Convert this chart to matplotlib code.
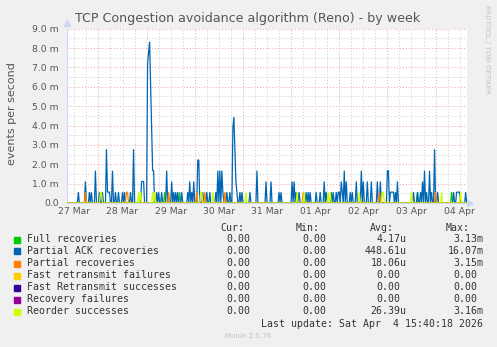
import numpy as np
import matplotlib
matplotlib.use("Agg")
import matplotlib.pyplot as plt
import matplotlib.dates as mdates
from matplotlib.patches import Rectangle
from datetime import datetime, timedelta

# 30 minute samples, index k -> start + k*30min, values in milli-events/s
start = datetime(2026, 3, 27, 8, 30)
n_samples = 400

full_idx = [97, 112, 349, 383]
full_val = [0.56, 0.56, 0.56, 0.56]

ack_idx = [11, 18, 22, 24, 28, 32, 35, 39, 40, 41, 42, 45, 48, 51, 55, 57, 63, 66,
           74, 75, 76, 80, 81, 82, 83, 84, 85, 86, 89, 91, 94, 99, 104, 106, 108, 110,
           114, 120, 122, 124, 126, 130, 131, 135, 139, 142, 148, 150, 152, 154, 155,
           159, 162, 165, 166, 167, 168, 169, 172, 174, 182, 189, 198, 203, 211, 213,
           224, 226, 228, 231, 238, 240, 242, 248, 252, 256, 258, 263, 265, 268, 270,
           271, 273, 274, 276, 278, 282, 284, 288, 293, 295, 299, 303, 309, 312, 319,
           320, 322, 323, 324, 325, 327, 329, 345, 349, 352, 354, 356, 358, 361, 363,
           366, 369, 385, 388, 389, 390, 391, 397]
ack_val = [0.56, 1.11, 0.56, 0.56, 1.67, 0.56, 0.56, 2.78, 0.56, 0.56, 0.56, 1.67, 0.56, 0.56, 0.56, 0.56, 0.56, 2.78,
           1.11, 1.11, 1.11, 7.22, 7.78, 8.33, 6.11, 3.89, 1.67, 1.67, 0.56, 0.56, 0.56, 1.67, 1.11, 0.56, 0.56, 0.56,
           0.56, 0.56, 1.11, 0.56, 1.11, 2.22, 2.22, 0.56, 0.56, 0.56, 0.56, 1.67, 1.67, 1.67, 0.56,
           0.56, 0.56, 3.89, 4.44, 2.78, 1.11, 0.56, 0.56, 0.56, 0.56, 1.67, 1.11, 1.11, 0.56, 0.56,
           1.11, 1.11, 0.56, 0.56, 0.56, 0.56, 0.56, 0.56, 0.56, 1.11, 0.56, 0.56, 0.56, 0.56, 0.56,
           0.56, 1.11, 0.56, 1.67, 1.11, 0.56, 0.56, 1.11, 1.67, 1.11, 1.11, 1.11, 1.11, 1.11, 1.67,
           1.67, 0.56, 0.56, 0.56, 0.56, 0.56, 1.11, 0.56, 0.56, 0.56, 1.11, 1.67, 0.56, 1.67, 0.56,
           2.78, 0.56, 0.56, 0.56, 0.56, 0.56, 0.56, 0.56]

partial_idx = [18, 59, 60, 101, 129, 137, 157, 235, 311, 367]
partial_val = [0.56] * 10

reorder_idx = [33, 34, 71, 73, 85, 87, 133, 134, 145, 178, 229, 236, 260, 262, 291,
               314, 315, 343, 373, 392]
reorder_val = [0.56] * 20

labels = ["Full recoveries", "Partial ACK recoveries", "Partial recoveries",
          "Fast retransmit failures", "Fast Retransmit successes",
          "Recovery failures", "Reorder successes"]
colors = ["#00CC00", "#0066B3", "#FF8000", "#FFCC00", "#330099", "#990099", "#CCFF00"]
cur = ["0.00"] * 7
mins = ["0.00"] * 7
avgs = ["4.17u", "448.61u", "18.06u", "0.00", "0.00", "0.00", "26.39u"]
maxs = ["3.13m", "16.07m", "3.15m", "0.00", "0.00", "0.00", "3.16m"]


def series(idx, val):
    s = np.zeros(n_samples)
    s[idx] = val
    return s


times = [start + timedelta(minutes=30 * k) for k in range(n_samples)]
data = [series(full_idx, full_val), series(ack_idx, ack_val),
        series(partial_idx, partial_val), np.zeros(n_samples),
        np.zeros(n_samples), np.zeros(n_samples),
        series(reorder_idx, reorder_val)]

W, H = 497, 347
fig = plt.figure(figsize=(W / 100, H / 100), dpi=100, facecolor="#F0F0F0")
ax = fig.add_axes([67 / W, (H - 203) / H, 400 / W, (203 - 28.7) / H])
ax.set_facecolor("white")

t0 = datetime(2026, 3, 27, 8, 20)
t1 = datetime(2026, 4, 4, 15, 40)
ax.set_xlim(t0, t1)
ax.set_ylim(0, 9.0)

for s, c in zip(data, colors):
    ax.plot(times, s, color=c, lw=0.9, solid_joinstyle="miter", zorder=3)

# grid
grid_red = "#eaa5a5"
grid_grey = "#cccccc"
ax.set_yticks(np.arange(0, 9.5, 1.0))
ax.set_yticklabels(["0.0"] + ["%.1f m" % v for v in np.arange(1, 9.5, 1.0)])
for v in np.arange(0.5, 9.0, 1.0):
    ax.axhline(v, color=grid_grey, lw=0.7, ls=(0, (1, 2)), zorder=1)
for v in np.arange(1.0, 9.5, 1.0):
    ax.axhline(v, color=grid_red, lw=0.7, ls=(0, (1, 2)), zorder=1)

ax.xaxis.set_major_locator(mdates.HourLocator(byhour=[12]))
ax.xaxis.set_major_formatter(mdates.DateFormatter("%d %b"))
d = datetime(2026, 3, 27)
while d < t1:
    for h in (6, 12, 18):
        th = d + timedelta(hours=h)
        if t0 < th < t1:
            ax.axvline(th, color=grid_grey, lw=0.7, ls=(0, (1, 2)), zorder=1)
    if t0 < d < t1:
        ax.axvline(d, color=grid_red, lw=0.7, ls=(0, (1, 2)), zorder=1)
    d += timedelta(days=1)

ax.tick_params(which="both", length=0, labelsize=6.7, colors="#555555")
ax.tick_params(axis="y", pad=6)
ax.tick_params(axis="x", pad=3)
for sp in ("top", "right"):
    ax.spines[sp].set_visible(False)
ax.spines["left"].set_color("#cdd5f5")
ax.spines["bottom"].set_color("#cdd5f5")
ax.plot([0], [1.03], marker="^", ms=4, color="#cdd5f5", transform=ax.transAxes, clip_on=False)
ax.plot([1.008], [0], marker=">", ms=4, color="#cdd5f5", transform=ax.transAxes, clip_on=False)

ax.set_ylabel("events per second", fontsize=8, color="#555555")
ax.yaxis.set_label_coords((17 - 67) / 400, (203 - 114) / 174.3)
fig.text(248 / W, 1 - 18.5 / H, "TCP Congestion avoidance algorithm (Reno) - by week",
         ha="center", va="center", fontsize=9.1, color="#555555")
fig.text(487 / W, 1 - 5 / H, "RRDTOOL / TOBI OETIKER", rotation=270, ha="center",
         va="top", fontsize=5, color="#c4c4c4")

# legend table
mono = dict(family="DejaVu Sans Mono", fontsize=7.1, color="#333333", va="center")
cw = 5.94
hy = 228.3
fig.text(244.3 / W, 1 - hy / H, "Cur:", ha="right", **mono)
fig.text(319.3 / W, 1 - hy / H, "Min:", ha="right", **mono)
fig.text(394.3 / W, 1 - hy / H, "Avg:", ha="right", **mono)
fig.text(470 / W, 1 - hy / H, "Max:", ha="right", **mono)


def right_edge(txt, x_unit):
    return x_unit if txt[-1].isalpha() else x_unit - cw


for i, lab in enumerate(labels):
    y = 1 - (239.5 + 12 * i) / H
    fig.patches.append(Rectangle((14 / W, y - 3 / H), 6 / W, 6 / H,
                                 transform=fig.transFigure, color=colors[i]))
    fig.text(26.7 / W, y, lab, ha="left", **mono)
    fig.text(right_edge(cur[i], 256.6) / W, y, cur[i], ha="right", **mono)
    fig.text(right_edge(mins[i], 331.9) / W, y, mins[i], ha="right", **mono)
    fig.text(right_edge(avgs[i], 406.7) / W, y, avgs[i], ha="right", **mono)
    fig.text(right_edge(maxs[i], 483.3) / W, y, maxs[i], ha="right", **mono)

fig.text(483 / W, 1 - 323.7 / H, "Last update: Sat Apr  4 15:40:18 2026", ha="right", **mono)
fig.text(248 / W, 1 - 335.7 / H, "Munin 2.0.76", ha="center", va="center",
         fontsize=5, color="#c0c0c0")

fig.savefig("out.png", dpi=100, facecolor=fig.get_facecolor())
